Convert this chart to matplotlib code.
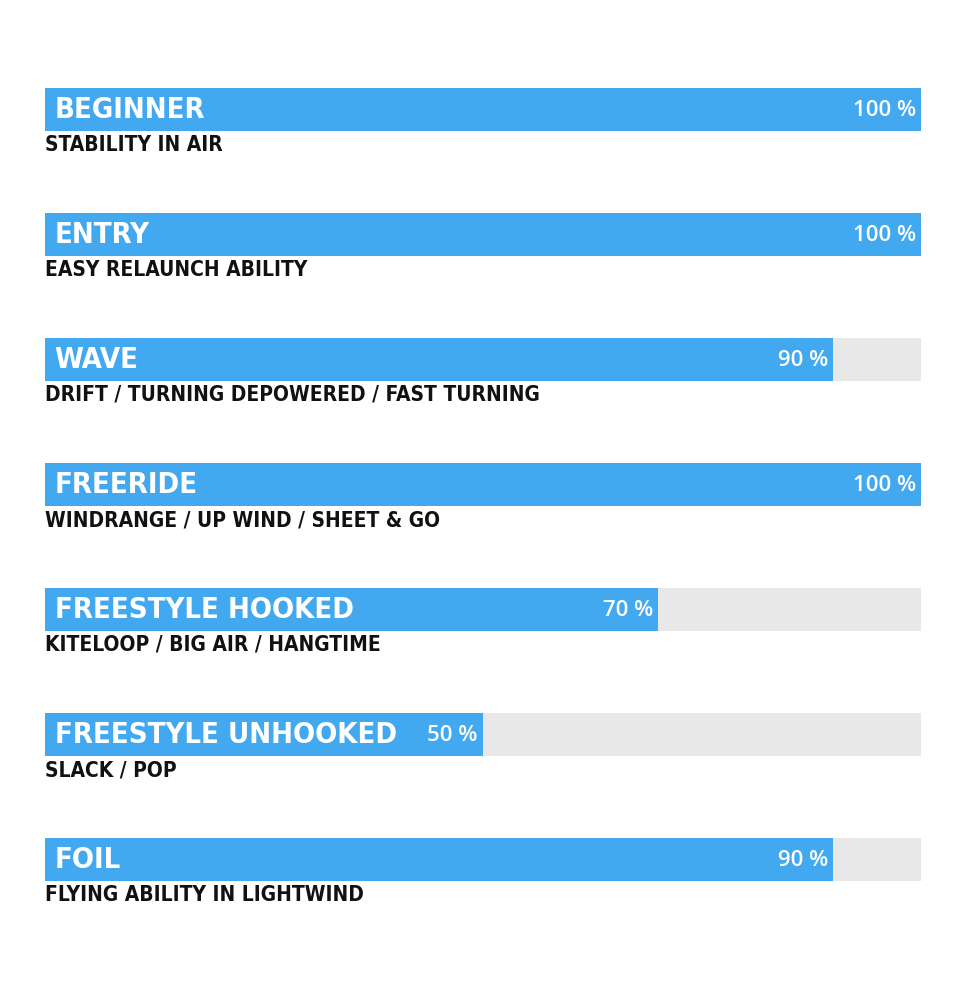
import matplotlib.pyplot as plt

categories = ["BEGINNER", "ENTRY", "WAVE", "FREERIDE", "FREESTYLE HOOKED",
              "FREESTYLE UNHOOKED", "FOIL"]
subtitles = ["STABILITY IN AIR", "EASY RELAUNCH ABILITY",
             "DRIFT / TURNING DEPOWERED / FAST TURNING",
             "WINDRANGE / UP WIND / SHEET & GO",
             "KITELOOP / BIG AIR / HANGTIME", "SLACK / POP",
             "FLYING ABILITY IN LIGHTWIND"]
values = [100, 100, 90, 100, 70, 50, 90]

blue = "#42a9f1"
grey = "#e8e8e8"

fig = plt.figure(figsize=(9.8, 9.81), dpi=100)
ax = fig.add_axes([45 / 980, 0, 876 / 980, 1])
ax.set_xlim(0, 100)
ax.set_ylim(6.976, -0.872)
ax.axis("off")

rows = list(range(len(categories)))
h = 0.344
ax.barh(rows, [100] * len(rows), height=h, color=grey)
ax.barh(rows, values, height=h, color=blue)

for i in rows:
    ax.text(1.1, i + 0.01, categories[i], color="white", fontsize=21,
            fontweight="bold", family="DejaVu Sans", fontstretch="condensed",
            va="center", ha="left")
    ax.text(values[i] - 0.6, i + 0.01, f"{values[i]} %", color="white",
            fontsize=16, fontweight="semibold",
            family=["Open Sans", "DejaVu Sans"], va="center", ha="right")
    ax.text(0, i + 0.288, subtitles[i], color="#111111", fontsize=15,
            fontweight="bold", family="DejaVu Sans", fontstretch="condensed",
            va="center", ha="left")

fig.savefig("out.png", dpi=100)
